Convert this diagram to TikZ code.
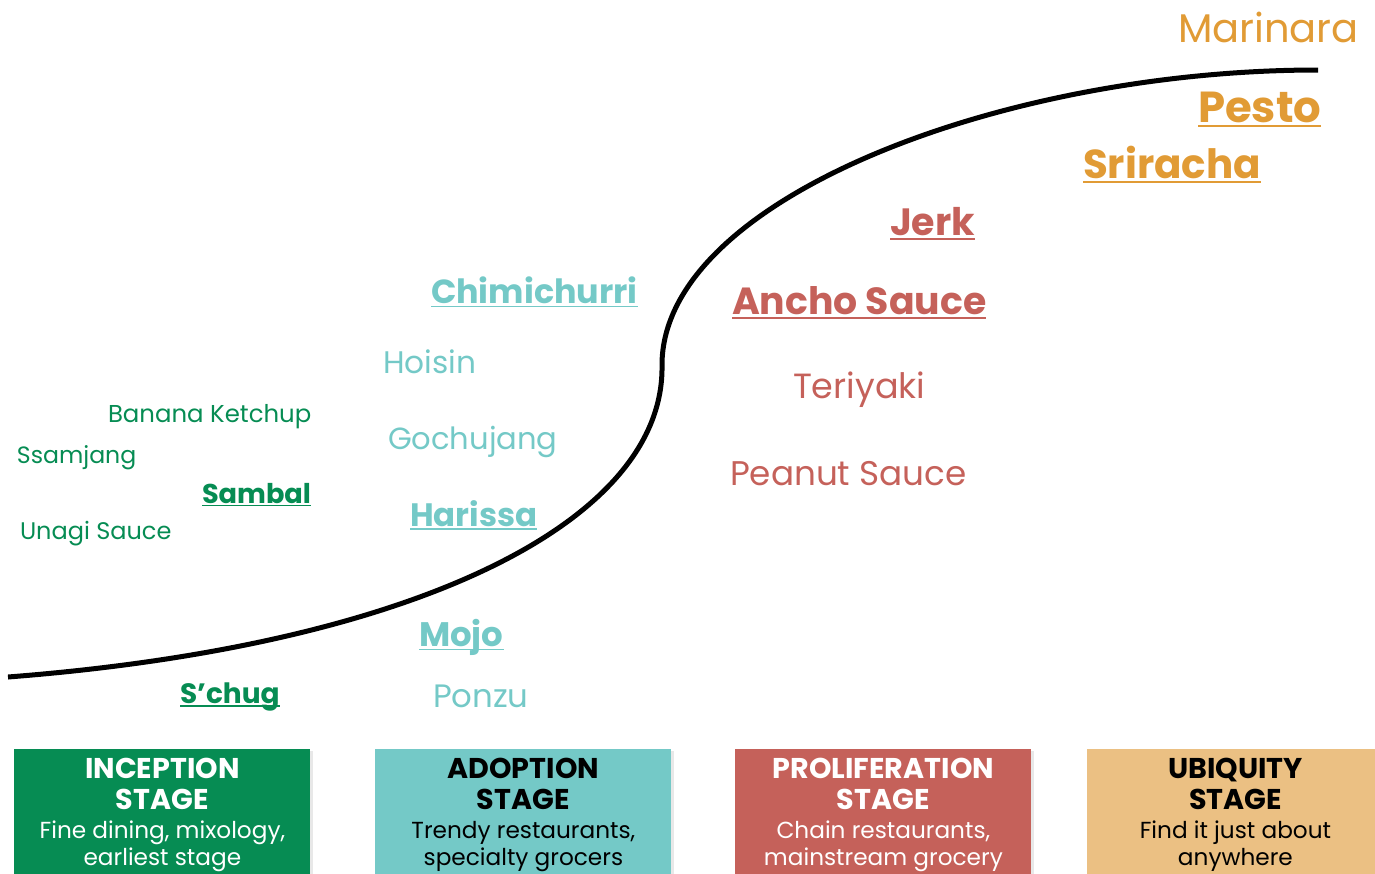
\documentclass[tikz,border=0pt]{standalone}
\usepackage{fontspec}
\setmainfont{Poppins}
\usetikzlibrary{shadows}

\definecolor{incgreen}{HTML}{068C53}
\definecolor{adoteal}{HTML}{74C9C7}
\definecolor{prored}{HTML}{C5615A}
\definecolor{ubiorange}{HTML}{E19B35}
\definecolor{ubisand}{HTML}{EBC083}

\newcommand{\saucebar}[1]{\setbox0=\hbox{#1}\rlap{\rule[-0.125em]{\wd0}{0.05em}}\box0}
\newcommand{\fsz}[1]{\fontsize{#1}{1.2\dimexpr#1pt\relax}\selectfont}
\newcommand{\stagetitle}{\fontsize{14.3}{16}\bfseries}

\begin{document}
\begin{tikzpicture}[x=0.5pt, y=-0.5pt,
    sauce/.style={anchor=base west, inner sep=0pt, outer sep=0pt},
    hot/.style={sauce, font=\bfseries},
    stagebox/.style={anchor=north west, minimum width=148pt, minimum height=65.5pt,
      inner sep=0pt, align=center, font=\fontsize{11.6}{13.5}\selectfont,
      drop shadow={shadow xshift=1.5pt, shadow yshift=-0.8pt, fill=black, opacity=0.09}},
    sigmoid/.style={line width=2.5pt, black}]
  \useasboundingbox (0,0) rectangle (1375,873);

  % Adoption curve
  \coordinate (low) at (8,677);
  \coordinate (turn) at (662,365);
  \coordinate (high) at (1318,70);
  \draw[sigmoid] (low) .. controls (420,645) and (665,520) .. (turn)
    .. controls (662,200) and (1000,70) .. (high);

  % Inception sauces
  \node[sauce, text=incgreen, font=\fsz{12.2}] (banana) at (108,422) {Banana Ketchup};
  \node[sauce, text=incgreen, font=\fsz{11.8}] (ssamjang) at (17,463) {Ssamjang};
  \node[hot, text=incgreen, font=\fsz{13.6}\bfseries] (sambal) at (202,503) {\saucebar{Sambal}};
  \node[sauce, text=incgreen, font=\fsz{12}] (unagi) at (20,539) {Unagi Sauce};
  \node[hot, text=incgreen, font=\fsz{14}\bfseries] (schug) at (180,703) {\saucebar{S’chug}};

  % Adoption sauces
  \node[hot, text=adoteal, font=\fsz{16.7}\bfseries] (chimi) at (431,303) {\saucebar{Chimichurri}};
  \node[sauce, text=adoteal, font=\fsz{15.6}] (hoisin) at (383,373) {Hoisin};
  \node[sauce, text=adoteal, font=\fsz{15.3}] (gochu) at (388,449) {Gochujang};
  \node[hot, text=adoteal, font=\fsz{16.2}\bfseries] (harissa) at (410,526) {\saucebar{Harissa}};
  \node[hot, text=adoteal, font=\fsz{17}\bfseries] (mojo) at (419,646) {\saucebar{Mojo}};
  \node[sauce, text=adoteal, font=\fsz{16.2}] (ponzu) at (433,707) {Ponzu};

  % Proliferation sauces
  \node[hot, text=prored, font=\fsz{19}\bfseries] (jerk) at (890,235) {\saucebar{Jerk}};
  \node[hot, text=prored, font=\fsz{18.9}\bfseries] (ancho) at (732,314) {\saucebar{Ancho Sauce}};
  \node[sauce, text=prored, font=\fsz{17.5}] (teriyaki) at (793,398) {Teriyaki};
  \node[sauce, text=prored, font=\fsz{17.1}] (peanut) at (730,485) {Peanut Sauce};

  % Ubiquity sauces
  \node[sauce, text=ubiorange, font=\fsz{20}] (marinara) at (1178,42) {Marinara};
  \node[hot, text=ubiorange, font=\fsz{21.7}\bfseries] (pesto) at (1198,122) {\saucebar{Pesto}};
  \node[hot, text=ubiorange, font=\fsz{20.2}\bfseries] (sriracha) at (1083,178) {\saucebar{Sriracha}};

  % Stage boxes
  \node[stagebox, fill=incgreen, text=white] (inception) at (14,749)
    {{\stagetitle INCEPTION}\\[2pt]{\stagetitle STAGE}\\[1pt]
     Fine dining, mixology,\\earliest stage};
  \node[stagebox, fill=adoteal, text=black] (adoption) at (375,749)
    {{\stagetitle ADOPTION}\\[2pt]{\stagetitle STAGE}\\[1pt]
     Trendy restaurants,\\specialty grocers};
  \node[stagebox, fill=prored, text=white] (proliferation) at (735,749)
    {{\stagetitle PROLIFERATION}\\[2pt]{\stagetitle STAGE}\\[1pt]
     Chain restaurants,\\mainstream grocery};
  \node[stagebox, fill=ubisand, text=black] (ubiquity) at (1087,749)
    {{\stagetitle UBIQUITY}\\[2pt]{\stagetitle STAGE}\\[1pt]
     Find it just about\\anywhere};
\end{tikzpicture}
\end{document}
